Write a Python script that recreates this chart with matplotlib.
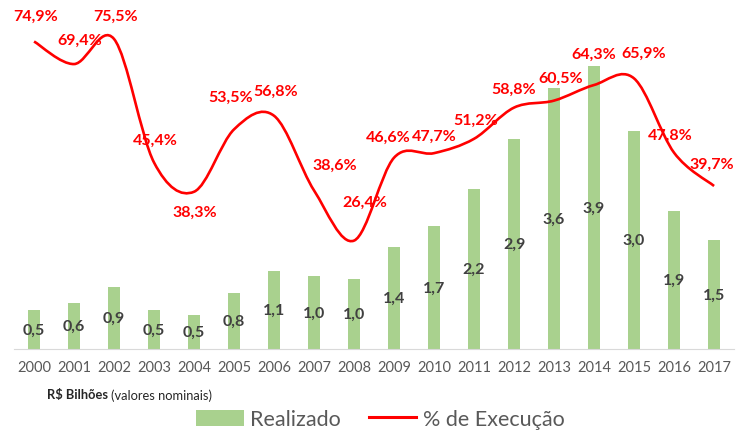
import numpy as np
import matplotlib.pyplot as plt
from matplotlib.path import Path
from matplotlib.patches import PathPatch
from matplotlib.lines import Line2D

# ── DATA ──────────────────────────────────────────────────────
anos = ['2000', '2001', '2002', '2003', '2004', '2005', '2006', '2007', '2008',
        '2009', '2010', '2011', '2012', '2013', '2014', '2015', '2016', '2017']
realizado = [0.54, 0.63, 0.86, 0.54, 0.47, 0.77, 1.07, 1.0, 0.97,
             1.4, 1.7, 2.2, 2.9, 3.6, 3.9, 3.0, 1.9, 1.5]
execucao = [74.9, 69.4, 75.5, 45.4, 38.3, 53.5, 56.8, 38.6, 26.4,
            46.6, 47.7, 51.2, 58.8, 60.5, 64.3, 65.9, 47.8, 39.7]

# label offsets for the % labels (pixels, dx, dy)
offs = [(2, 26), (6, 24), (1, 23), (1, 23), (1, -20), (-3, 33), (2, 25), (21, 26), (11, 39),
        (-6, 21), (0, 17), (2, 19), (0, 19), (7, 23), (0, 31), (10, 26), (-4, 18), (-2, 22)]

VERDE = '#A9D18E'
VERMELHO = '#FF0000'
CINZA = '#595959'

plt.rcParams['font.family'] = ['Lato', 'DejaVu Sans']


def smooth_path(xs, ys):
    """Bezier path through the points, like the Excel smoothed line"""
    pts = np.column_stack([xs, ys]).astype(float)
    verts = [pts[0]]
    codes = [Path.MOVETO]
    n = len(pts)
    for i in range(n - 1):
        p0 = pts[i - 1] if i > 0 else pts[i]
        p1, p2 = pts[i], pts[i + 1]
        p3 = pts[i + 2] if i + 2 < n else pts[i + 1]
        verts += [p1 + (p2 - p0) / 6, p2 - (p3 - p1) / 6, p2]
        codes += [Path.CURVE4] * 3
    return Path(verts, codes)


def main():
    fig = plt.figure(figsize=(7.4, 4.31), dpi=100)
    ax = fig.add_axes([0.019, 0.188, 0.973, 0.742])
    x = np.arange(len(anos))

    bars = ax.bar(x, realizado, width=0.3, color=VERDE, zorder=2)
    for xi, v in zip(x, realizado):
        ax.text(xi, v / 2, f'{v:.1f}'.replace('.', ','), ha='center', va='center',
                fontsize=11.5, color='#404040', fontweight='bold', zorder=3)

    ax.set_xlim(-0.5, len(anos) - 0.5)
    ax.set_ylim(0, 4.41)
    ax.set_xticks(x)
    ax.set_xticklabels(anos, fontsize=10.5, color=CINZA)
    ax.tick_params(axis='x', length=0, pad=8)
    ax.set_yticks([])
    for s in ['top', 'right', 'left']:
        ax.spines[s].set_visible(False)
    ax.spines['bottom'].set_color('#D9D9D9')

    ax2 = ax.twinx()
    ax2.set_ylim(0, 77.9)
    ax2.set_yticks([])
    for s in ax2.spines.values():
        s.set_visible(False)
    ax2.add_patch(PathPatch(smooth_path(x, execucao), fill=False,
                            edgecolor=VERMELHO, lw=1.9, zorder=4))
    for xi, v, (dx, dy) in zip(x, execucao, offs):
        ax2.annotate(f'{v:.1f}%'.replace('.', ','), (xi, v), xytext=(dx, dy),
                     textcoords='offset pixels', ha='center', va='center',
                     fontsize=11.5, fontweight='bold', color=VERMELHO,
                     annotation_clip=False, zorder=5)

    fig.text(0.063, 0.083, 'R$ Bilhões', fontsize=9.3, fontweight='bold',
             color='#262626', va='center')
    fig.text(0.150, 0.083, '(valores nominais)', fontsize=9.3,
             color='#262626', va='center')

    line_h = Line2D([], [], color=VERMELHO, lw=2.2)
    fig.legend([bars, line_h], ['Realizado', '% de Execução'], loc='center',
               bbox_to_anchor=(0.514, 0.025), ncol=2, frameon=False,
               fontsize=15.5, labelcolor=CINZA, handlelength=2.2,
               handleheight=0.8, columnspacing=1.3, handletextpad=0.3)

    fig.savefig('out.png', dpi=100)


if __name__ == "__main__":
    main()
